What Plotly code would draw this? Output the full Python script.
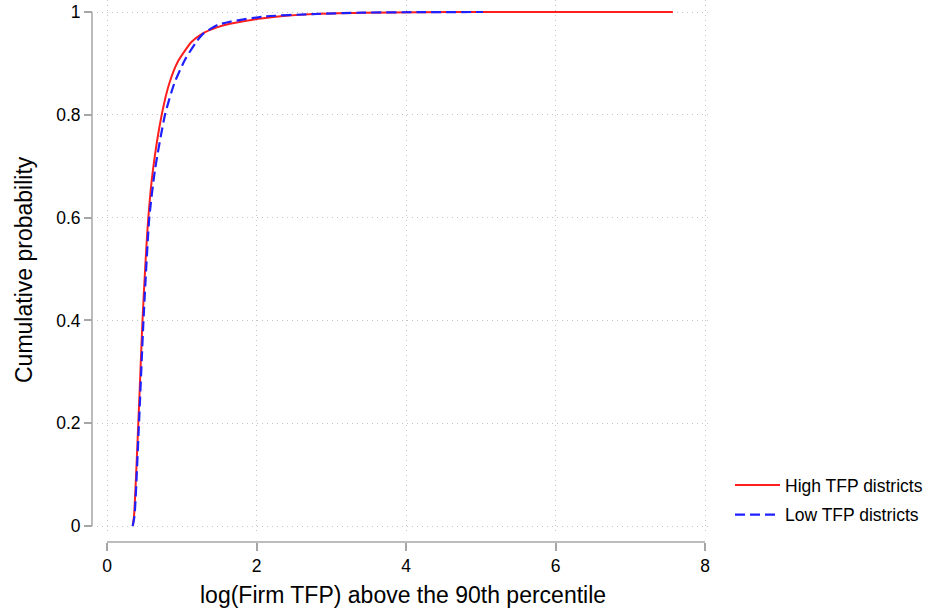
import plotly.graph_objects as go

# ---- data ----
high_x = [0.344, 0.361, 0.419, 0.448, 0.475, 0.553, 0.615, 0.732, 0.833, 0.954,
          1.133, 1.267, 1.470, 1.645, 2.090, 2.760, 3.425, 4.19, 5.0, 6.0, 7.57]
high_y = [0.0, 0.018, 0.200, 0.304, 0.400, 0.600, 0.693, 0.800, 0.861, 0.905,
          0.942, 0.957, 0.970, 0.977, 0.988, 0.996, 0.9985, 0.9995, 1.0, 1.0, 1.0]

low_x = [0.344, 0.368, 0.428, 0.488, 0.566, 0.642, 0.776, 0.900, 1.043, 1.200,
         1.289, 1.485, 1.645, 2.087, 2.756, 3.425, 4.19, 5.03]
low_y = [0.0, 0.020, 0.200, 0.400, 0.600, 0.693, 0.800, 0.861, 0.907, 0.943,
         0.958, 0.975, 0.981, 0.991, 0.996, 0.9988, 0.9997, 1.0]

x_ticks = [0, 2, 4, 6, 8]
y_ticks = [0, 0.2, 0.4, 0.6, 0.8, 1]
y_ticklabels = ["0", "0.2", "0.4", "0.6", "0.8", "1"]

series_names = ["High TFP districts", "Low TFP districts"]

W, H = 934, 615
FONT = "Liberation Sans, Arial, Helvetica, sans-serif"
AXIS_COLOR = "#a6a6a6"
GRID_COLOR = "#c4c4c4"

fig = go.Figure()
fig.add_trace(go.Scatter(
    x=high_x, y=high_y, mode="lines", name=series_names[0],
    line=dict(color="#ff1e1e", width=2, shape="spline", smoothing=0.6),
    legendgroup="a"))
fig.add_trace(go.Scatter(
    x=low_x, y=low_y, mode="lines", name=series_names[1],
    line=dict(color="#2020ff", width=2.2, dash="10px,5px", shape="spline", smoothing=0.6),
    legendgroup="b"))

# pixel geometry
x0_px, x8_px = 107, 705
px_per_x = (x8_px - x0_px) / 8.0
y0_px, y1_px = 526, 12
px_per_y = (y0_px - y1_px) / 1.0
plot_left, plot_right = 97, 712
plot_top, plot_bottom = 0, 535

xr = [(plot_left - x0_px) / px_per_x, (plot_right - x0_px) / px_per_x]
yr = [(y0_px - plot_bottom) / px_per_y, (y0_px - plot_top) / px_per_y]

xaxis_pos = (H - 542) / H
yaxis_pos = 92 / W

fig.update_layout(
    width=W, height=H,
    margin=dict(l=0, r=0, t=0, b=0),
    paper_bgcolor="white", plot_bgcolor="white",
    font=dict(family=FONT, color="black", size=17.5),
    xaxis=dict(
        domain=[plot_left / W, plot_right / W], range=xr,
        anchor="free", position=xaxis_pos,
        tickvals=x_ticks, ticks="outside", ticklen=8, tickwidth=1.5, tickcolor=AXIS_COLOR,
        showline=False, zeroline=False,
        showgrid=True, gridcolor=GRID_COLOR, gridwidth=1, griddash="1px,4px",
        tickfont=dict(size=17.5), fixedrange=True),
    yaxis=dict(
        domain=[(H - plot_bottom) / H, (H - plot_top) / H], range=yr,
        anchor="free", position=yaxis_pos,
        tickvals=y_ticks, ticktext=y_ticklabels,
        ticks="outside", ticklen=8, tickwidth=1.5, tickcolor=AXIS_COLOR,
        showline=False, zeroline=False,
        showgrid=True, gridcolor=GRID_COLOR, gridwidth=1, griddash="1px,4px",
        tickfont=dict(size=17.5), fixedrange=True),
    legend=dict(
        x=730 / W, y=(H - 467) / H, xanchor="left", yanchor="top",
        font=dict(size=17.5), bgcolor="rgba(0,0,0,0)", tracegroupgap=4,
        itemwidth=45),
    showlegend=True,
)

# axis lines spanning only the tick range (as in the reference)
fig.add_shape(type="line", xref="x", yref="paper", x0=x_ticks[0], x1=x_ticks[-1],
              y0=xaxis_pos, y1=xaxis_pos, line=dict(color=AXIS_COLOR, width=1.5))
fig.add_shape(type="line", xref="paper", yref="y", x0=yaxis_pos, x1=yaxis_pos,
              y0=y_ticks[0], y1=y_ticks[-1], line=dict(color=AXIS_COLOR, width=1.5))

# axis titles
fig.add_annotation(text="log(Firm TFP) above the 90th percentile", xref="paper", yref="paper",
                   x=403 / W, y=(H - 595) / H, xanchor="center", yanchor="middle",
                   showarrow=False, font=dict(size=23))
fig.add_annotation(text="Cumulative probability", xref="paper", yref="paper",
                   x=24 / W, y=(H - 270) / H, xanchor="center", yanchor="middle",
                   textangle=-90, showarrow=False, font=dict(size=23))

fig.write_html("out.html")
